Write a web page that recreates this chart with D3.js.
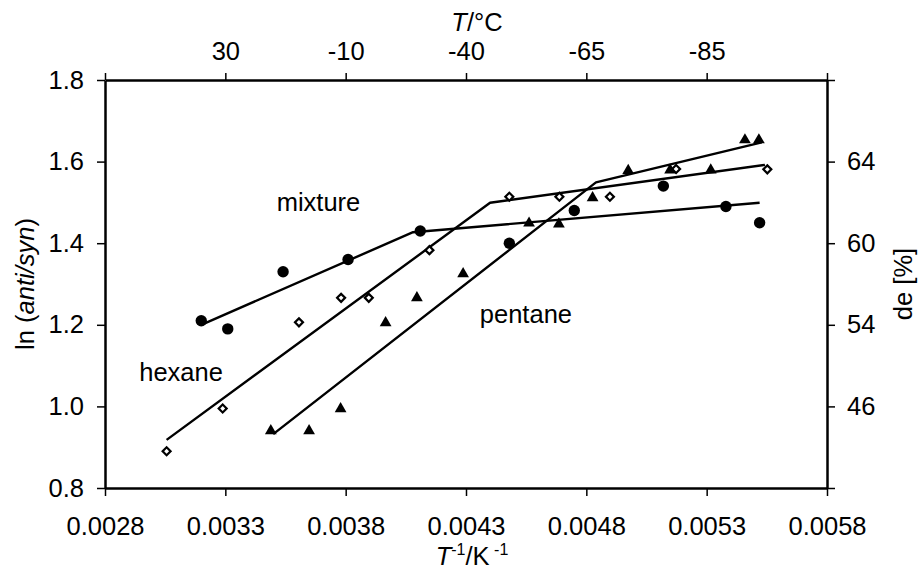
<!DOCTYPE html>
<html>
<head>
<meta charset="utf-8">
<script src="https://cdn.jsdelivr.net/npm/d3@7"></script>
<style>
  body { margin: 0; background: #fff; }
  text { font-family: "Liberation Sans", Arial, sans-serif; fill: #000; }
</style>
</head>
<body>
<div id="chart"></div>
<script>
// measured points, x = 1/T (K^-1), y = ln(anti/syn)
const mixtureX = [0.00320, 0.00331, 0.00354, 0.00381, 0.00411, 0.00448, 0.00475, 0.00512, 0.00538, 0.00552];
const mixtureY = [1.21, 1.19, 1.33, 1.36, 1.43, 1.40, 1.48, 1.54, 1.49, 1.45];

const hexaneX = [0.003056, 0.003289, 0.003606, 0.003781, 0.003896, 0.004148, 0.00448, 0.004688, 0.004898, 0.005173, 0.005552];
const hexaneY = [0.89, 0.995, 1.206, 1.266, 1.266, 1.383, 1.514, 1.514, 1.514, 1.582, 1.581];

const pentaneX = [0.003489, 0.003648, 0.003779, 0.003966, 0.004096, 0.004288, 0.004562, 0.004686, 0.004826, 0.004974, 0.005148, 0.005317, 0.005459, 0.005517];
const pentaneY = [0.94, 0.94, 0.994, 1.205, 1.266, 1.325, 1.449, 1.447, 1.511, 1.578, 1.579, 1.579, 1.653, 1.653];

// fitted broken lines
const mixtureFitX = [0.00320, 0.00408, 0.00552];
const mixtureFitY = [1.20, 1.427, 1.499];
const hexaneFitX = [0.003056, 0.0044, 0.005542];
const hexaneFitY = [0.918, 1.499, 1.592];
const pentaneFitX = [0.003499, 0.00484, 0.005529];
const pentaneFitY = [0.932, 1.549, 1.647];

// ticks
const xTicks = [0.0028, 0.0033, 0.0038, 0.0043, 0.0048, 0.0053, 0.0058];
const topTickLabels = ["", "30", "-10", "-40", "-65", "-85", ""];
const yTicks = [0.8, 1.0, 1.2, 1.4, 1.6, 1.8];
const rightTickLabels = ["", "46", "54", "60", "64", ""];

const margin = {top: 80, right: 93, bottom: 82, left: 105},
    width = 920 - margin.left - margin.right,
    height = 570 - margin.top - margin.bottom;

const fontSize = "25.5px";

const svg = d3.select("#chart")
    .append("svg")
    .attr("width", 920)
    .attr("height", 570)
    .append("g")
    .attr("transform", "translate(" + margin.left + "," + margin.top + ")");

const x = d3.scaleLinear().domain([0.0028, 0.0058]).range([0, width]);
const y = d3.scaleLinear().domain([0.8, 1.8]).range([height, 0]);

function styleAxis(g) {
    g.select(".domain").attr("stroke-width", 2.5);
    g.selectAll(".tick line").attr("stroke-width", 1.5);
    g.selectAll(".tick text").style("font-size", fontSize).attr("font-family", null);
}

// bottom axis
svg.append("g")
    .attr("transform", "translate(0," + height + ")")
    .call(d3.axisBottom(x).tickValues(xTicks).tickFormat(d3.format(".4f"))
        .tickSize(8).tickSizeOuter(0).tickPadding(21))
    .call(styleAxis);

// top axis (temperature in °C)
svg.append("g")
    .call(d3.axisTop(x).tickValues(xTicks).tickFormat((d, i) => topTickLabels[i])
        .tickSize(7).tickSizeOuter(0).tickPadding(13))
    .call(styleAxis);

// left axis
svg.append("g")
    .call(d3.axisLeft(y).tickValues(yTicks).tickFormat(d3.format(".1f"))
        .tickSize(8).tickSizeOuter(0).tickPadding(13))
    .call(styleAxis);

// right axis (de %)
svg.append("g")
    .attr("transform", "translate(" + width + ",0)")
    .call(d3.axisRight(y).tickValues(yTicks).tickFormat((d, i) => rightTickLabels[i])
        .tickSize(8).tickSizeOuter(0).tickPadding(12))
    .call(styleAxis);

// fit lines
const line = d3.line().x(d => x(d[0])).y(d => y(d[1]));
const fits = [
    d3.zip(mixtureFitX, mixtureFitY),
    d3.zip(hexaneFitX, hexaneFitY),
    d3.zip(pentaneFitX, pentaneFitY)
];
svg.append("g").selectAll("path")
    .data(fits)
    .enter()
    .append("path")
    .attr("d", line)
    .attr("fill", "none")
    .attr("stroke", "black")
    .attr("stroke-width", 2.4)
    .attr("stroke-linejoin", "round");

// points
svg.append("g").selectAll("circle")
    .data(d3.zip(mixtureX, mixtureY))
    .enter()
    .append("circle")
    .attr("cx", d => x(d[0]))
    .attr("cy", d => y(d[1]))
    .attr("r", 5.7)
    .attr("fill", "black");

svg.append("g").selectAll("path")
    .data(d3.zip(hexaneX, hexaneY))
    .enter()
    .append("path")
    .attr("d", d3.symbol(d3.symbolSquare, 32))
    .attr("transform", d => "translate(" + x(d[0]) + "," + y(d[1]) + ") rotate(45)")
    .attr("fill", "white")
    .attr("stroke", "black")
    .attr("stroke-width", 2.2);

svg.append("g").selectAll("path")
    .data(d3.zip(pentaneX, pentaneY))
    .enter()
    .append("path")
    .attr("d", d3.symbol(d3.symbolTriangle, 60))
    .attr("transform", d => "translate(" + x(d[0]) + "," + y(d[1]) + ")")
    .attr("fill", "black");

// series labels
const seriesLabels = [
    {text: "mixture", x: 0.003687, y: 1.479},
    {text: "hexane", x: 0.003116, y: 1.062},
    {text: "pentane", x: 0.004549, y: 1.204}
];
svg.append("g").selectAll("text")
    .data(seriesLabels)
    .enter()
    .append("text")
    .attr("x", d => x(d.x))
    .attr("y", d => y(d.y))
    .attr("text-anchor", "middle")
    .style("font-size", fontSize)
    .text(d => d.text);

// axis titles
const bottomTitle = svg.append("text")
    .attr("x", width / 2 + 6)
    .attr("y", height + 77)
    .attr("text-anchor", "middle")
    .style("font-size", fontSize);
bottomTitle.append("tspan").style("font-style", "italic").text("T");
bottomTitle.append("tspan").attr("dy", -10).style("font-size", "16px").text("-1");
bottomTitle.append("tspan").attr("dy", 10).text("/K");
bottomTitle.append("tspan").attr("dy", -10).style("font-size", "16px").text(" -1");

const topTitle = svg.append("text")
    .attr("x", width / 2 + 11)
    .attr("y", -49)
    .attr("text-anchor", "middle")
    .style("font-size", fontSize);
topTitle.append("tspan").style("font-style", "italic").text("T");
topTitle.append("tspan").text("/°C");

const leftTitle = svg.append("text")
    .attr("transform", "translate(" + (-71) + "," + (height / 2) + ") rotate(-90)")
    .attr("text-anchor", "middle")
    .style("font-size", fontSize);
leftTitle.append("tspan").text("ln (");
leftTitle.append("tspan").style("font-style", "italic").text("anti/syn");
leftTitle.append("tspan").text(")");

svg.append("text")
    .attr("transform", "translate(" + (width + 85) + "," + (height / 2) + ") rotate(-90)")
    .attr("text-anchor", "middle")
    .style("font-size", fontSize)
    .text("de [%]");
</script>
</body>
</html>
